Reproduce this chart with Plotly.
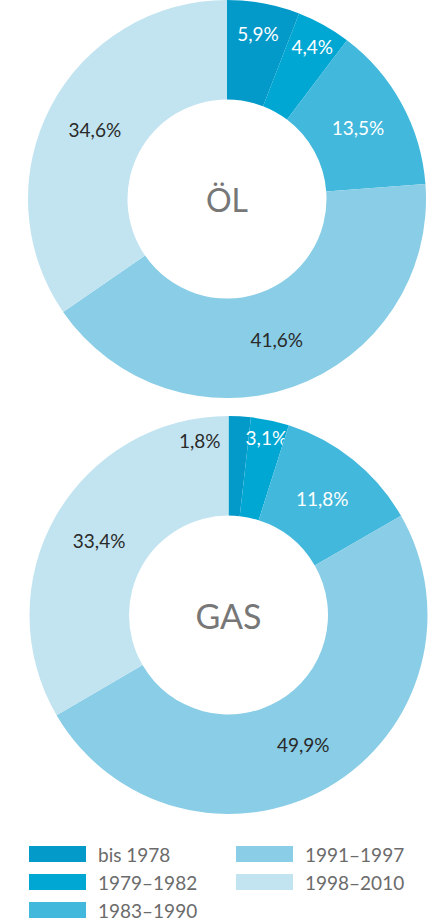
import plotly.graph_objects as go

W, H = 439, 923

periods = ["bis 1978", "1979–1982", "1983–1990", "1991–1997", "1998–2010"]
oel_share = [5.9, 4.4, 13.5, 41.6, 34.6]
gas_share = [1.8, 3.1, 11.8, 49.9, 33.4]

COLORS = ["#0399C9", "#00A7D3", "#42B8DC", "#89CDE6", "#C2E4F0"]
FONT = "Lato, sans-serif"
TXT_COLORS = ["white", "white", "white", "#2a2a2a", "#2a2a2a"]


def px_x(x):
    return x / W


def px_y(y):
    return 1 - y / H


def donut(values, title, title_size, x0, x1, y0, y1, templates=None):
    return go.Pie(
        labels=periods, values=values, sort=False, direction="clockwise",
        rotation=0, hole=0.5,
        marker=dict(colors=COLORS, line=dict(width=0)),
        texttemplate=templates or "%{value:.1f}%", textposition="inside",
        insidetextorientation="horizontal",
        textfont=dict(family=FONT, size=19, color=TXT_COLORS),
        title=dict(text=title, position="middle center",
                   font=dict(family=FONT, size=title_size, color="#777777")),
        domain=dict(x=[px_x(x0), px_x(x1)], y=[px_y(y1), px_y(y0)]),
        showlegend=False, hoverinfo="label+percent",
    )


fig = go.Figure()
fig.add_trace(donut(oel_share, "ÖL", 32, 28, 426, 0, 398))
# the tiny first gas slice gets its label outside, left of the slice
gas_tpl = [""] + ["%{value:.1f}%"] * 4
fig.add_trace(donut(gas_share, "GAS", 34, 29.5, 427.5, 416, 814, gas_tpl))
fig.add_annotation(x=px_x(223), y=px_y(440), xref="paper", yref="paper",
                   text=f"{gas_share[0]:.1f}%".replace(".", ","), showarrow=False,
                   xanchor="right", yanchor="middle",
                   font=dict(family=FONT, size=19, color="#2a2a2a"))

# legend drawn by hand (wide swatches)
leg_pos = [(29, 854), (29, 882), (29, 910), (236, 854), (236, 882)]
for (lx, ly), name, col in zip(leg_pos, periods, COLORS):
    fig.add_shape(type="rect", xref="paper", yref="paper",
                  x0=px_x(lx), x1=px_x(lx + 57), y0=px_y(ly + 8), y1=px_y(ly - 8),
                  fillcolor=col, line_width=0)
    fig.add_annotation(x=px_x(lx + 67), y=px_y(ly), xref="paper", yref="paper",
                       text=name, showarrow=False, xanchor="left", yanchor="middle",
                       font=dict(family=FONT, size=19, color="#6b6b6b"))

fig.update_layout(
    width=W, height=H,
    margin=dict(l=0, r=0, t=0, b=0),
    paper_bgcolor="white", plot_bgcolor="white",
    separators=",.",
    uniformtext=dict(minsize=19, mode="show"),
    font_family=FONT,
)

fig.write_html(
    "out.html",
    config={"displayModeBar": False},
    post_script="document.body.style.margin='0';document.body.style.overflow='hidden';",
)
